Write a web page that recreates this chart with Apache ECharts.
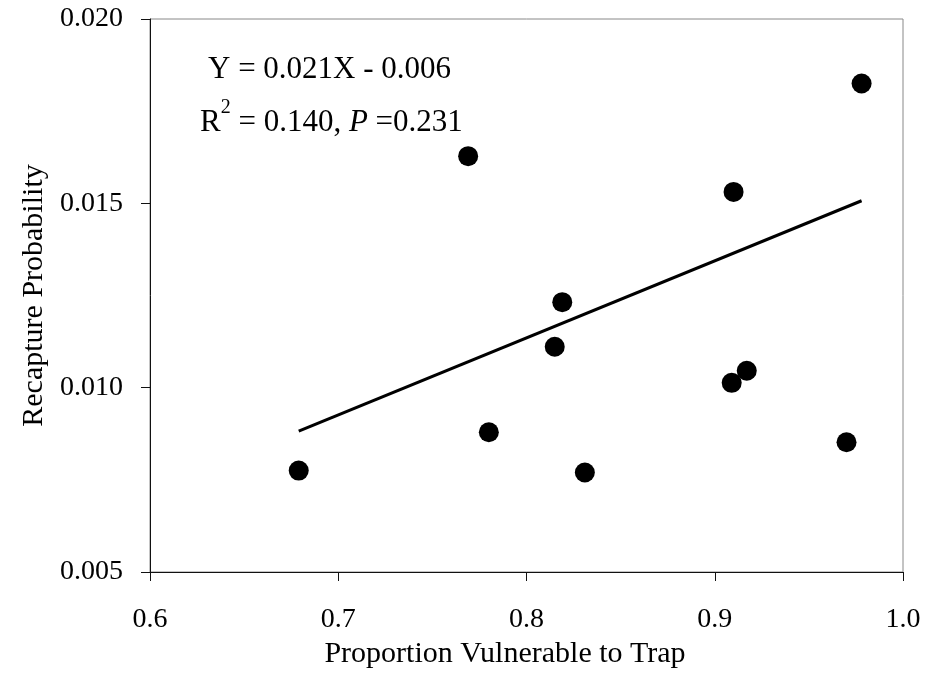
<!DOCTYPE html>
<html>
<head>
<meta charset="utf-8">
<script src="https://cdn.jsdelivr.net/npm/echarts@6/dist/echarts.min.js"></script>
<style>
  html, body { margin: 0; padding: 0; background: #fff; }
  #chart { width: 927px; height: 679px; }
</style>
</head>
<body>
<div id="chart"></div>
<script>
// ---- data ----
const xValues = [0.679, 0.769, 0.780, 0.815, 0.819, 0.831, 0.910, 0.909, 0.917, 0.970, 0.978];
const yValues = [0.00775, 0.01628, 0.00879, 0.01111, 0.01232, 0.00770, 0.01531, 0.01013, 0.01046, 0.00852, 0.01825];
const trendX = [0.679, 0.978];
const trendY = [0.00882, 0.01507];
const xTicks = [0.6, 0.7, 0.8, 0.9, 1.0];
const yTicks = [0.005, 0.010, 0.015, 0.020];
const xTitle = 'Proportion Vulnerable to Trap';
const yTitle = 'Recapture Probability';
const eqLine1 = 'Y = 0.021X - 0.006';
const eqR2 = '0.140';
const eqP = '0.231';

const FONT = "'Times New Roman', 'Liberation Serif', serif";

const points = xValues.map((x, i) => [x, yValues[i]]);
const trend = trendX.map((x, i) => [x, trendY[i]]);

const chart = echarts.init(document.getElementById('chart'), null, { renderer: 'canvas' });
chart.setOption({
  animation: false,
  backgroundColor: '#fff',
  grid: {
    left: 150, right: 24, top: 19, bottom: 107,
    show: true, borderColor: '#888', borderWidth: 1, backgroundColor: 'transparent'
  },
  xAxis: {
    type: 'value',
    min: xTicks[0], max: xTicks[xTicks.length - 1], interval: 0.1,
    name: xTitle, nameLocation: 'middle', nameGap: 67,
    nameTextStyle: { fontFamily: FONT, fontSize: 30, color: '#000', padding: [0, 43, 0, 0] },
    axisLine: { show: true, onZero: false, lineStyle: { color: '#111', width: 1 } },
    axisTick: { show: true, inside: false, length: 9, lineStyle: { color: '#111' } },
    axisLabel: { fontFamily: FONT, fontSize: 28, color: '#000', margin: 34,
                 formatter: v => v.toFixed(1) },
    splitLine: { show: false }
  },
  yAxis: {
    type: 'value',
    min: yTicks[0], max: yTicks[yTicks.length - 1], interval: 0.005,
    name: yTitle, nameLocation: 'middle', nameGap: 100,
    nameTextStyle: { fontFamily: FONT, fontSize: 30, color: '#000' },
    axisLine: { show: true, onZero: false, lineStyle: { color: '#111', width: 1 } },
    axisTick: { show: true, inside: false, length: 9, lineStyle: { color: '#111' } },
    axisLabel: { fontFamily: FONT, fontSize: 28, color: '#000', margin: 27,
                 formatter: v => v.toFixed(3) },
    splitLine: { show: false }
  },
  series: [
    {
      type: 'line', data: trend, symbol: 'none', silent: true,
      lineStyle: { color: '#000', width: 3 }, z: 2
    },
    {
      type: 'scatter', data: points, symbol: 'circle', symbolSize: 20,
      itemStyle: { color: '#000', opacity: 1 }, z: 3
    }
  ],
  graphic: [
    {
      type: 'text', left: 208, top: 54, z: 10,
      style: { text: eqLine1, font: "31px " + FONT, fill: '#000' }
    },
    {
      type: 'text', left: 200, top: 98, z: 10,
      style: {
        text: '{n|R}{sup|2}{n| = ' + eqR2 + ', }{i|P}{n| =' + eqP + '}',
        rich: {
          n: { fontFamily: FONT, fontSize: 31, color: '#000', lineHeight: 49 },
          sup: { fontFamily: FONT, fontSize: 20, color: '#000', lineHeight: 20, verticalAlign: 'top' },
          i: { fontFamily: FONT, fontSize: 31, fontStyle: 'italic', color: '#000', lineHeight: 49 }
        }
      }
    }
  ]
});
</script>
</body>
</html>
